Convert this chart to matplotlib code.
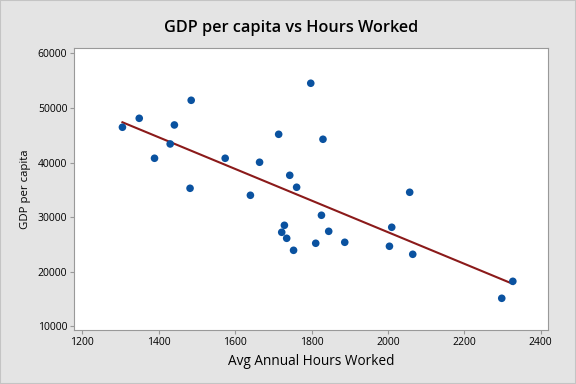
import numpy as np
import matplotlib
matplotlib.use('Agg')
import matplotlib.pyplot as plt
from matplotlib.patches import Rectangle

hours = [1305, 1349, 1389, 1430, 1441, 1485, 1482, 1574, 1664, 1640,
         1714, 1798, 1830, 1743, 1761, 1826, 1729, 2057, 2010, 1722,
         1735, 1753, 1811, 1845, 1887, 2004, 2065, 2298, 2327]
gdp = [46460, 48100, 40780, 43400, 46880, 51400, 35280, 40780, 40050, 34000,
       45170, 54520, 44260, 37660, 35470, 30340, 28500, 34550, 28140, 27220,
       26120, 23920, 25210, 27400, 25390, 24660, 23190, 15130, 18240]
xticks = [1200, 1400, 1600, 1800, 2000, 2200, 2400]
yticks = [10000, 20000, 30000, 40000, 50000, 60000]

plt.rcParams['font.family'] = ['Open Sans', 'DejaVu Sans']

fig = plt.figure(figsize=(5.76, 3.84), dpi=100, facecolor='#e4e4e4')
fig.patches.append(Rectangle((0, 0), 1, 1, transform=fig.transFigure,
                             fill=False, edgecolor='#c4c4c4', linewidth=1.5))
ax = fig.add_axes([0.129, 0.1406, 0.823, 0.7336])

# fitted line over data range
slope, icpt = np.polyfit(hours, gdp, 1)
xs = np.array([min(hours), max(hours)])
ax.plot(xs, slope * xs + icpt, color='#8b1a1a', linewidth=1.5, zorder=2)
ax.scatter(hours, gdp, s=30, color='#0a52a0', edgecolors='none', zorder=3)

ax.set_xlim(1179, 2420)
ax.set_ylim(9320, 60920)
ax.set_xticks(xticks)
ax.set_yticks(yticks)
for s in ax.spines.values():
    s.set_color('#999999')
ax.tick_params(direction='out', length=3, color='#999999', labelsize=7.5, pad=2)
ax.set_xlabel('Avg Annual Hours Worked', fontsize=9.8, labelpad=4)
ax.set_ylabel('GDP per capita', fontsize=8.2, labelpad=5)
fig.text(0.505, 0.928, 'GDP per capita vs Hours Worked', ha='center', va='center',
         fontsize=11.7, fontweight='semibold')

fig.savefig('out.png', dpi=100, facecolor=fig.get_facecolor())
